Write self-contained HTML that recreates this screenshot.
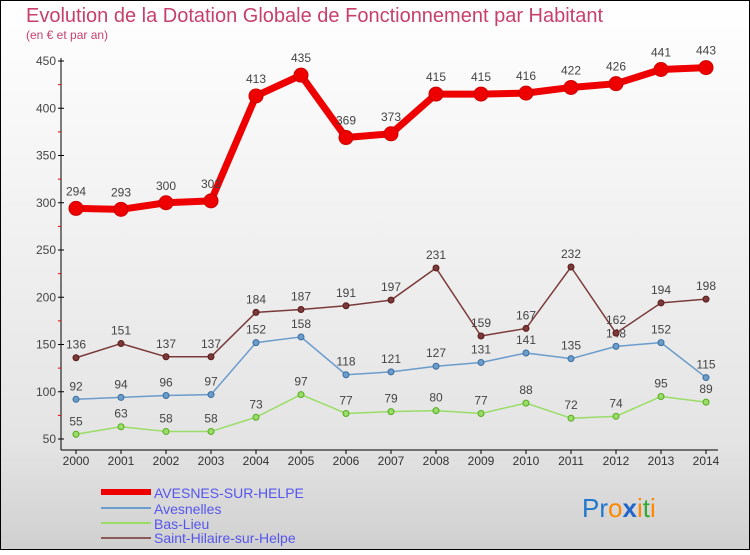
<!DOCTYPE html>
<html><head><meta charset="utf-8"><style>
html,body{margin:0;padding:0}
body{width:750px;height:550px;overflow:hidden;font-family:"Liberation Sans",sans-serif}
</style></head><body>
<svg width="750" height="550" xmlns="http://www.w3.org/2000/svg">
<defs><linearGradient id="bg" x1="0" y1="0" x2="0" y2="1">
<stop offset="0" stop-color="#ffffff"/><stop offset="0.8" stop-color="#e4e4e4"/><stop offset="1" stop-color="#d0d0d0"/></linearGradient></defs>
<rect x="0.5" y="0.5" width="749" height="549" fill="url(#bg)" stroke="#000"/>
<text x="26" y="22" font-size="20" fill="#c8406a">Evolution de la Dotation Globale de Fonctionnement par Habitant</text>
<text x="26" y="39" font-size="12" fill="#c8406a">(en € et par an)</text>
<g id="axes"></g>
<g id="series"></g>
<g id="legend" font-size="14" fill="#5555ee">
<line x1="101" y1="492" x2="151" y2="492" stroke="#ee0000" stroke-width="6"/>
<text x="154" y="498">AVESNES-SUR-HELPE</text>
<line x1="101" y1="508" x2="151" y2="508" stroke="#6a9ccc" stroke-width="2"/>
<text x="154" y="514">Avesnelles</text>
<line x1="101" y1="523" x2="151" y2="523" stroke="#99dd66" stroke-width="2"/>
<text x="154" y="529">Bas-Lieu</text>
<line x1="101" y1="538" x2="151" y2="538" stroke="#8a5a5a" stroke-width="2"/>
<text x="154" y="543">Saint-Hilaire-sur-Helpe</text>
</g>
<text x="582" y="517" font-size="26"><tspan fill="#2277cc">Pr</tspan><tspan fill="#ff8800">o</tspan><tspan fill="#2266cc" font-weight="bold">x</tspan><tspan fill="#ff8800">i</tspan><tspan fill="#33aa33">t</tspan><tspan fill="#ff8800">i</tspan></text>
</svg>
<script>
const years=["2000","2001","2002","2003","2004","2005","2006","2007","2008","2009","2010","2011","2012","2013","2014"];
const yTicks=[50,100,150,200,250,300,350,400,450];
const avesnes=[294,293,300,302,413,435,369,373,415,415,416,422,426,441,443];
const avesnelles=[92,94,96,97,152,158,118,121,127,131,141,135,148,152,115];
const basLieu=[55,63,58,58,73,97,77,79,80,77,88,72,74,95,89];
const saintHilaire=[136,151,137,137,184,187,191,197,231,159,167,232,162,194,198];
const NS="http://www.w3.org/2000/svg";
const xs=i=>76+i*45;
const ys=v=>439-(v-50)*378/400;
function mk(tag,attrs,parent){const e=document.createElementNS(NS,tag);for(const k in attrs)e.setAttribute(k,attrs[k]);parent.appendChild(e);return e;}
const ax=document.getElementById('axes');
let a=mk('line',{x1:61,y1:58,x2:61,y2:450,stroke:'#000'},ax);


a=mk('line',{x1:61,y1:450,x2:718,y2:450,stroke:'#000'},ax);


yTicks.forEach(v=>{
 const t=mk('text',{x:56,y:ys(v)+4,'font-size':12,fill:'#444','text-anchor':'end'},ax);t.textContent=v;
 
 
 mk('line',{x1:58,y1:ys(v),x2:64,y2:ys(v),stroke:'#000'},ax);
 if(v<450){mk('line',{x1:58,y1:ys(v+25),x2:61,y2:ys(v+25),stroke:'#e00'},ax);}
});
years.forEach((y,i)=>{
 const t=mk('text',{x:xs(i),y:465,'font-size':12,fill:'#333','text-anchor':'middle'},ax);t.textContent=y;
 
 
 mk('line',{x1:xs(i),y1:450,x2:xs(i),y2:454,stroke:'#000'},ax);
});
const sg=document.getElementById('series');
function series(data,name,color,w,r,dark){
 const g=mk('g',{},sg);
 
 
 const l=mk('polyline',{points:data.map((v,i)=>xs(i)+','+ys(v)).join(' '),fill:'none',stroke:color,'stroke-width':w,'stroke-linejoin':'round'},g);
 
 
 data.forEach((v,i)=>{
  const c=mk('circle',{cx:xs(i),cy:ys(v),r:r,fill:color,stroke:dark,'stroke-width':1},g);
  
  
  const t=mk('text',{x:xs(i),y:ys(v)-(r+6),'font-size':12,fill:'#444','text-anchor':'middle'},g);t.textContent=v;
  
  
 });
}
series(basLieu,'bas-lieu','#99dd66',1.5,3,'#55aa22');
series(avesnelles,'avesnelles','#6a9ccc',1.5,3,'#3a6c9c');
series(saintHilaire,'saint-hilaire-sur-helpe','#7a3a3a',1.5,3,'#5a1a1a');
series(avesnes,'avesnes-sur-helpe','#ee0000',7,7,'#cc0000');
</script>
</body></html>
